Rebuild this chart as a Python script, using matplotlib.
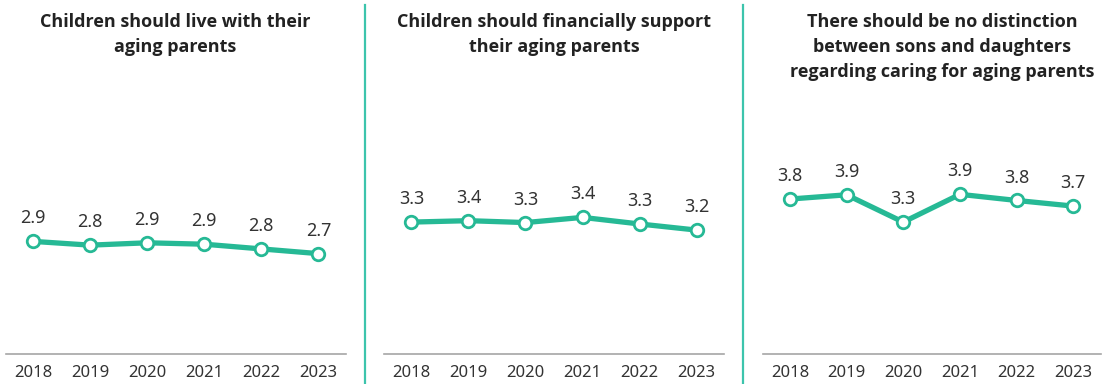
import matplotlib
matplotlib.use("Agg")
import matplotlib.pyplot as plt
from matplotlib.lines import Line2D

plt.rcParams['font.family'] = ['Noto Sans', 'DejaVu Sans']

years = ["2018", "2019", "2020", "2021", "2022", "2023"]
titles = [
    "Children should live with their\naging parents",
    "Children should financially support\ntheir aging parents",
    "There should be no distinction\nbetween sons and daughters\nregarding caring for aging parents",
]
live_with = [2.92, 2.84, 2.89, 2.86, 2.76, 2.66]
financial = [3.33, 3.36, 3.32, 3.43, 3.29, 3.16]
no_distinction = [3.82, 3.91, 3.33, 3.92, 3.79, 3.67]
series = [live_with, financial, no_distinction]

W, H = 1102, 384
TEAL = "#26b995"
SEP = "#3cc4ac"
AXIS_GRAY = "#a6a6a6"

fig = plt.figure(figsize=(W / 100, H / 100), dpi=100)

# panel extents in pixels (left, right)
panels_px = [(5.7, 345.7), (384.0, 724.0), (762.7, 1100.5)]
title_cx = [175, 554, 942]
ax_bottom_px, ax_top_px = 354.3, 120.0

for i, ((l, r), vals, title) in enumerate(zip(panels_px, series, titles)):
    ax = fig.add_axes([l / W, (H - ax_bottom_px) / H, (r - l) / W,
                       (ax_bottom_px - ax_top_px) / H])
    x = range(len(years))
    ax.plot(x, vals, color=TEAL, lw=3.8, solid_capstyle="round",
            solid_joinstyle="round", zorder=2)
    ax.plot(x, vals, ls="none", marker="o", ms=9, mfc="white", mec=TEAL,
            mew=2.0, zorder=3)
    for xi, v in zip(x, vals):
        ax.annotate(f"{v:.1f}", (xi, v), xytext=(0, 16.5), textcoords="offset points",
                    ha="center", va="center", fontsize=13, color="#333333")
    ax.set_xlim(-0.48, 5.48)
    ax.set_ylim(0.52, 5.5)
    ax.set_xticks(list(x))
    ax.set_xticklabels(years, fontsize=12, color="#333333")
    ax.tick_params(axis="x", length=0, pad=7.5)
    ax.set_yticks([])
    for side in ("top", "left", "right"):
        ax.spines[side].set_visible(False)
    ax.spines["bottom"].set_color(AXIS_GRAY)
    ax.spines["bottom"].set_linewidth(1.2)
    ax.patch.set_alpha(0)

    fig.text(title_cx[i] / W, 1 - 13 / H, title, ha="center", va="top",
             fontsize=13, fontweight="bold", color="#222222", linespacing=1.5,
             family=["Open Sans", "DejaVu Sans"])

# vertical separators between panels
for sx in (364.8, 742.5):
    fig.add_artist(Line2D([sx / W, sx / W], [0, 1 - 5 / H], color=SEP, lw=1.6,
                          transform=fig.transFigure))

fig.savefig("out.png", dpi=100)
